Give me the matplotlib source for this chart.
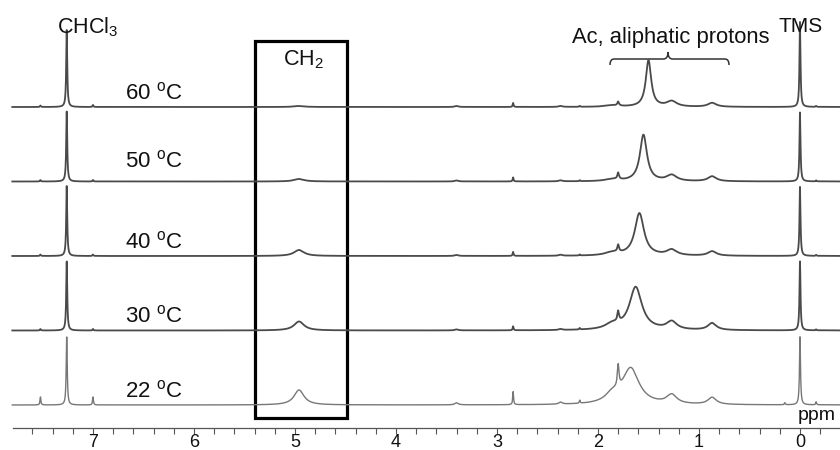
import numpy as np
import matplotlib
matplotlib.use("Agg")
import matplotlib.pyplot as plt
from matplotlib.patches import Rectangle, PathPatch
from matplotlib.path import Path
from matplotlib.ticker import MultipleLocator

plt.rcParams["font.family"] = ["Liberation Sans", "DejaVu Sans"]
plt.rcParams["mathtext.fontset"] = "custom"
plt.rcParams["mathtext.rm"] = "Liberation Sans"
plt.rcParams["mathtext.it"] = "Liberation Sans:italic"

# temperatures, bottom to top
temps = ["22", "30", "40", "50", "60"]

# fixed peaks (ppm, half width at half height in ppm)
peak_ppm = [7.52, 7.26, 7.00, 4.96, 3.40, 2.84, 2.37, 2.18, 1.86, 1.80, 1.27, 0.87, 0.15, 0.00, -0.16]
peak_hw = [0.005, 0.006, 0.005, 0.06, 0.02, 0.005, 0.02, 0.005, 0.08, 0.01, 0.06, 0.05, 0.005, 0.006, 0.005]

# peak heights (a.u.) per temperature, same order as peak_ppm
heights = {
    "22": [8, 68, 8, 15, 2, 13, 2, 3, 8, 22, 9, 7, 2, 68, 3],
    "30": [1.5, 69, 1.5, 9, 1, 4, 1, 1.5, 5, 10, 8, 7, 0, 69, 1],
    "40": [1.5, 70, 1.5, 6, 1, 4, 1, 1, 3, 7, 5.7, 4.5, 0, 69, 1],
    "50": [1.5, 70, 1.5, 2.5, 1, 4, 1, 1, 2, 6.5, 6, 5, 0, 69, 1],
    "60": [1.5, 77, 2, 1, 1, 4, 1, 1, 1.5, 4, 5.5, 4, 0, 85, 1],
}

# main acetyl/aliphatic peak moves and sharpens with temperature
main_ppm = [1.676, 1.627, 1.59, 1.55, 1.50]
main_hw = [0.10, 0.075, 0.055, 0.042, 0.032]
main_h = [36, 43, 42.5, 46.5, 46.5]

ppm = np.arange(-0.40, 7.80, 0.001)


def spectrum(hs, mp, mw, mh):
    y = np.zeros_like(ppm)
    for p, w, h in zip(peak_ppm, peak_hw, hs):
        y += h / (1 + ((ppm - p) / w) ** 2)
    y += mh / (1 + ((ppm - mp) / mw) ** 2)
    return y


fig = plt.figure(figsize=(8.4, 4.5), dpi=100)
ax = fig.add_axes([13 / 840, 22 / 450, 827 / 840, 428 / 450])
ax.set_xlim(7.792, -0.396)
ax.set_ylim(0, 428)

base0, step = 23, 74.5
label_dy = [16, 16, 16, 22, 16]
for i, t in enumerate(temps):
    off = base0 + step * i
    y = spectrum(heights[t], main_ppm[i], main_hw[i], main_h[i]) + off
    col = "#777777" if i == 0 else "#4a4a4a"
    lw = 1.0 if i == 0 else 1.3
    ax.plot(ppm, y, color=col, lw=lw, clip_on=False)
    ax.text(6.683, off + label_dy[i] - 8, t + r" $^{\mathrm{o}}$C", fontsize=16,
            ha="left", va="baseline", color="#111111")

# CH2 box
ax.add_patch(Rectangle((5.40, 10), 4.485 - 5.40, 377, fill=False, lw=2.3, ec="black"))
ax.text(5.119, 363, r"CH$_2$", fontsize=15.5, ha="left", va="baseline", color="#111111")

ax.text(7.357, 395, r"CHCl$_3$", fontsize=15.5, ha="left", va="baseline", color="#111111")
ax.text(0.215, 396, "TMS", fontsize=15, ha="left", va="baseline", color="#111111")
ax.text(2.257, 385, "Ac, aliphatic protons", fontsize=15.8, ha="left", va="baseline", color="#111111")
ax.text(0.02, 8, "ppm", fontsize=14, ha="left", va="baseline", color="#111111")

# curly brace over the aliphatic region
L, C, R = 1.881, 1.307, 0.703
yb, yl, yt = 363, 369, 376
verts = [(L, yb), (L, yl), (L - 0.04, yl), (C + 0.045, yl), (C, yl), (C, yt),
         (C, yl), (C - 0.045, yl), (R + 0.04, yl), (R, yl), (R, yb)]
codes = [Path.MOVETO, Path.CURVE3, Path.CURVE3, Path.LINETO, Path.CURVE3, Path.CURVE3,
         Path.CURVE3, Path.CURVE3, Path.LINETO, Path.CURVE3, Path.CURVE3]
ax.add_patch(PathPatch(Path(verts, codes), fill=False, lw=1.1, ec="#333333"))

for s in ["top", "left", "right"]:
    ax.spines[s].set_visible(False)
ax.spines["bottom"].set_color("#555555")
ax.spines["bottom"].set_linewidth(0.9)
ax.set_yticks([])
ax.xaxis.set_major_locator(MultipleLocator(1))
ax.xaxis.set_minor_locator(MultipleLocator(0.2))
ax.tick_params(axis="x", which="both", direction="out", length=4, width=0.8,
               color="#555555", labelsize=13, pad=0.5, labelcolor="#111111")
ax.set_xticks(range(0, 8))

fig.savefig("out.png", dpi=100)
